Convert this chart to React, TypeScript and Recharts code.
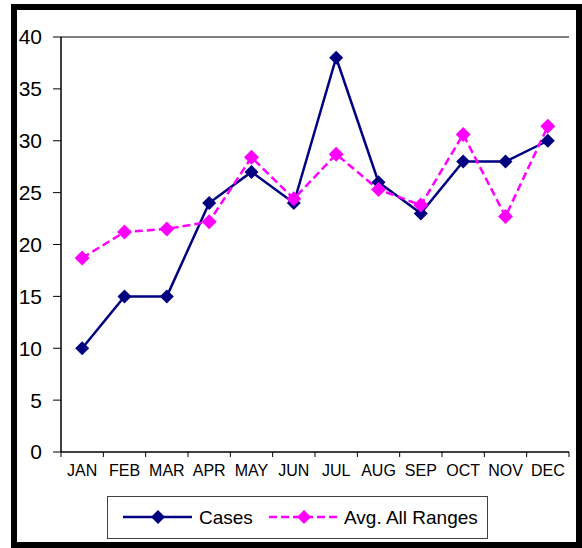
import React from 'react';
import { LineChart, Line, XAxis, YAxis, ReferenceLine, Legend } from 'recharts';

const months = ['JAN', 'FEB', 'MAR', 'APR', 'MAY', 'JUN', 'JUL', 'AUG', 'SEP', 'OCT', 'NOV', 'DEC'];
const cases = [10, 15, 15, 24, 27, 24, 38, 26, 23, 28, 28, 30];
const avgAllRanges = [18.7, 21.2, 21.5, 22.2, 28.4, 24.4, 28.7, 25.3, 23.8, 30.6, 22.7, 31.4];
const yTicks = [0, 5, 10, 15, 20, 25, 30, 35, 40];

const NAVY = '#000080';
const PINK = '#FF00FF';
const FONT = '"Liberation Sans", Arial, sans-serif';
const X_TICK_MARGIN = 13;
const X_TICK_LEN = 5;

const data = months.map((m, i) => ({ month: m, cases: cases[i], avg: avgAllRanges[i] }));

const diamond = (color: string, r: number) => (props: any) => {
  const { cx, cy, index } = props;
  if (cx == null || cy == null) return <g key={index} />;
  return (
    <polygon
      key={index}
      points={`${cx},${cy - r} ${cx + r},${cy} ${cx},${cy + r} ${cx - r},${cy}`}
      fill={color}
    />
  );
};

const MonthTick = (props: any) => {
  const { x, y, payload, index } = props;
  const half = payload && payload.offset ? payload.offset : 0;
  const axisY = y - X_TICK_MARGIN;
  return (
    <g>
      {index === 0 && (
        <line x1={x - half} x2={x - half} y1={axisY} y2={axisY + X_TICK_LEN} stroke="#000" strokeWidth={1} />
      )}
      <line x1={x + half} x2={x + half} y1={axisY} y2={axisY + X_TICK_LEN} stroke="#000" strokeWidth={1} />
      <text x={x} y={y} dy="0.71em" textAnchor="middle" fontSize={16} fontFamily={FONT} fill="#000">
        {payload.value}
      </text>
    </g>
  );
};

const LegendBox = () => (
  <div
    style={{
      width: 381,
      height: 43,
      boxSizing: 'border-box',
      border: '1px solid #404040',
      background: '#fff',
    }}
  >
    <svg width={379} height={41} style={{ display: 'block' }}>
      <line x1={15} x2={84} y1={20} y2={20} stroke={NAVY} strokeWidth={2.5} />
      <polygon points="50,13 57,20 50,27 43,20" fill={NAVY} />
      <text x={91} y={27} fontSize={19} fontFamily={FONT} fill="#000">Cases</text>
      <line x1={161} x2={230} y1={20} y2={20} stroke={PINK} strokeWidth={2.5} strokeDasharray="8 4" />
      <polygon points="196,13 203,20 196,27 189,20" fill={PINK} />
      <text x={236} y={27} fontSize={19} fontFamily={FONT} fill="#000">Avg. All Ranges</text>
    </svg>
  </div>
);

export default function App() {
  return (
    <div style={{ position: 'fixed', left: 0, top: 0, width: 582, height: 548, background: '#fff' }}>
      <LineChart
        width={582}
        height={548}
        data={data}
        margin={{ top: 37, right: 13, left: 0, bottom: 0 }}
      >
        <XAxis xAxisId="edge" type="number" domain={[0, 12]} hide allowDataOverflow />
        <XAxis
          dataKey="month"
          scale="band"
          height={96}
          tickLine={false}
          axisLine={{ stroke: '#000', strokeWidth: 1.5 }}
          tickMargin={X_TICK_MARGIN}
          tickSize={0}
          tick={MonthTick}
          interval={0}
        />
        <YAxis
          domain={[0, 40]}
          ticks={yTicks}
          width={61}
          tickSize={8}
          tickMargin={11}
          axisLine={{ stroke: '#000', strokeWidth: 1.5 }}
          tickLine={{ stroke: '#000', strokeWidth: 1 }}
          tick={{ fill: '#000', fontSize: 21, fontFamily: FONT }}
          interval={0}
        />
        <ReferenceLine y={40} stroke="#808080" strokeWidth={2} />
        <ReferenceLine xAxisId="edge" x={12} stroke="#808080" strokeWidth={2} />
        <Line
          type="linear"
          dataKey="cases"
          name="Cases"
          stroke={NAVY}
          strokeWidth={2.5}
          dot={diamond(NAVY, 7)}
          activeDot={false}
          isAnimationActive={false}
        />
        <Line
          type="linear"
          dataKey="avg"
          name="Avg. All Ranges"
          stroke={PINK}
          strokeWidth={2.5}
          strokeDasharray="8 4"
          dot={diamond(PINK, 7.5)}
          activeDot={false}
          isAnimationActive={false}
        />
        <Legend
          layout="horizontal"
          verticalAlign="middle"
          align="center"
          content={() => <LegendBox />}
          wrapperStyle={{ position: 'absolute', left: 107, top: 496, width: 381, height: 43 }}
        />
      </LineChart>
      <div
        style={{
          position: 'absolute',
          left: 11,
          top: 4,
          width: 571,
          height: 544,
          boxSizing: 'border-box',
          border: '6px solid #000',
          pointerEvents: 'none',
        }}
      />
    </div>
  );
}
